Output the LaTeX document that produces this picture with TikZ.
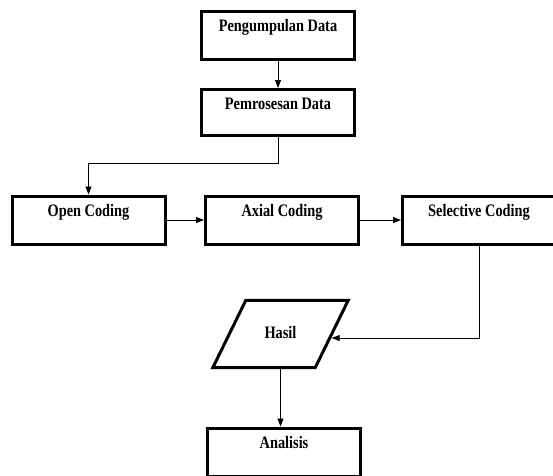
\documentclass[tikz,border=0pt]{standalone}
\usepackage{fontspec}
\setmainfont{Liberation Serif}[FakeStretch=0.82]
\usetikzlibrary{arrows.meta}
\begin{document}
\begin{tikzpicture}[x=1pt, y=-1pt,
        kotak/.style={draw, line width=3pt, minimum width=153pt, inner sep=3pt,
            text height=17pt, text depth=25pt, font=\fontsize{17.5}{20}\selectfont\bfseries},
        jajar/.style={minimum width=102pt, minimum height=67pt, inner sep=3pt,
            font=\fontsize{17.5}{20}\selectfont\bfseries},
        panah/.style={-{Triangle[length=8pt,width=6pt]}, line width=0.8pt}]
            \clip (0, 0) rectangle (553, 475);
            \fill[white] (0, 0) rectangle (553, 475);
            \node[kotak] (kumpul) at (278, 35.5) {Pengumpulan Data};
            \node[kotak, minimum height=46pt, text depth=23pt] (proses) at (278, 112.5) {Pemrosesan Data};
            \node[kotak] (open) at (88.5, 220) {Open Coding};
            \node[kotak] (axial) at (282, 220) {Axial Coding};
            \node[kotak] (selektif) at (479, 220) {Selective Coding};
            \node[jajar] (hasil) at (280.5, 334) {\raisebox{4pt}{Hasil}};
            \node[kotak] (analisis) at (284, 452) {Analisis};
            \draw[line width=3pt, line join=miter] ([xshift=16.5pt]hasil.north west) -- ([xshift=16.5pt]hasil.north east)
                -- ([xshift=-16.5pt]hasil.south east) -- ([xshift=-16.5pt]hasil.south west) -- cycle;
            \coordinate (belok) at (278, 163);
            \draw[panah] (kumpul.south) -- (proses.north);
            \draw[panah] (proses.south) -- (belok) -| (open.north);
            \draw[panah] (open.east) -- (axial.west);
            \draw[panah] (axial.east) -- (selektif.west);
            \draw[panah] (selektif.south) |- ([yshift=-4pt]hasil.east);
            \draw[panah] (hasil.south) -- (hasil.south |- analisis.north);
        \end{tikzpicture}
\end{document}
